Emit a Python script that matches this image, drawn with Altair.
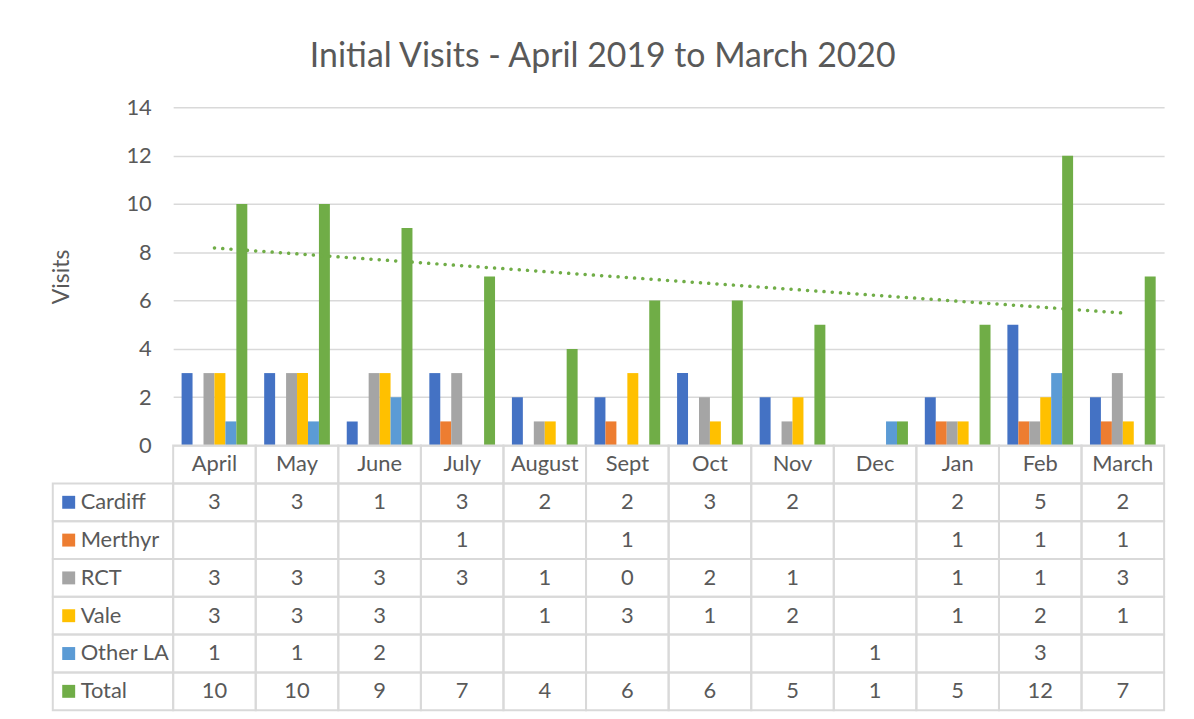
import altair as alt
import pandas as pd

# ---- data ----
months = ["April", "May", "June", "July", "August", "Sept", "Oct", "Nov", "Dec", "Jan", "Feb", "March"]
series = ["Cardiff", "Merthyr", "RCT", "Vale", "Other LA", "Total"]
cardiff = [3, 3, 1, 3, 2, 2, 3, 2, None, 2, 5, 2]
merthyr = [None, None, None, 1, None, 1, None, None, None, 1, 1, 1]
rct = [3, 3, 3, 3, 1, 0, 2, 1, None, 1, 1, 3]
vale = [3, 3, 3, None, 1, 3, 1, 2, None, 1, 2, 1]
other_la = [1, 1, 2, None, None, None, None, None, 1, None, 3, None]
total = [10, 10, 9, 7, 4, 6, 6, 5, 1, 5, 12, 7]
colors = ["#4472C4", "#ED7D31", "#A5A5A5", "#FFC000", "#5B9BD5", "#70AD47"]
y_ticks = [0, 2, 4, 6, 8, 10, 12, 14]
chart_title = "Initial Visits - April 2019 to March 2020"
y_title = "Visits"
header_key = "header"

# ---- build tables ----
values_by_series = dict(zip(series, [cardiff, merthyr, rct, vale, other_la, total]))
long_rows = []
for s in series:
    for i, m in enumerate(months):
        v = values_by_series[s][i]
        long_rows.append({"month": m, "idx": i + 1, "series": s, "row": s,
                          "value": v, "label": "" if v is None else str(v)})
df = pd.DataFrame(long_rows)

table_rows = [{"month": m, "row": header_key, "label": m} for m in months]
table_rows += [{"month": r["month"], "row": r["row"], "label": r["label"]} for r in long_rows]
tdf = pd.DataFrame(table_rows)
ldf = pd.DataFrame({"row": series, "series": series})
row_domain = [header_key] + series

# ---- style ----
FONT = "Lato"
TXT = "#595959"
GRID = "#D9D9D9"
W = 996
H = 340
ROW_H = 38
FS = 22

color = alt.Color("series:N", scale=alt.Scale(domain=series, range=colors), legend=None)

bars = alt.Chart(df).mark_bar().encode(
    x=alt.X("month:N", sort=months,
            scale=alt.Scale(domain=months, paddingInner=0, paddingOuter=0), axis=None),
    xOffset=alt.XOffset("series:N", sort=series,
                        scale=alt.Scale(domain=series, paddingInner=0, paddingOuter=0.77)),
    y=alt.Y("value:Q", scale=alt.Scale(domain=[0, 14], nice=False),
            axis=alt.Axis(values=y_ticks, title=y_title, grid=True, gridColor=GRID,
                          gridWidth=1.5, domain=False, ticks=False, tickSize=0,
                          labelPadding=22, labelFont=FONT, labelFontSize=FS,
                          labelColor=TXT, titleFont=FONT, titleFontSize=23,
                          titleColor=TXT, titleFontWeight="normal", titlePadding=53)),
    color=color,
)

trend = alt.Chart(df).transform_filter(
    alt.datum.series == "Total"
).transform_regression("idx", "value").mark_line(
    color="#70AD47", strokeWidth=3.5, strokeDash=[0.1, 8.2], strokeCap="round"
).encode(
    x=alt.X("idx:Q", scale=alt.Scale(domain=[0.5, 12.5], nice=False, zero=False), axis=None),
    y=alt.Y("value:Q"),
)

top = alt.layer(bars, trend).resolve_scale(x="independent").properties(width=W, height=H)

x_tab = alt.X("month:N", sort=months,
              scale=alt.Scale(domain=months, paddingInner=0, paddingOuter=0), axis=None)
y_tab = alt.Y("row:N", sort=row_domain,
              scale=alt.Scale(domain=row_domain, paddingInner=0, paddingOuter=0), axis=None)

cells = alt.Chart(tdf).mark_rect(fillOpacity=0, stroke=GRID, strokeWidth=2).encode(
    x=x_tab, y=y_tab)
texts = alt.Chart(tdf).mark_text(font=FONT, fontSize=FS, color=TXT).encode(
    x=x_tab, y=y_tab, text="label:N")
left_cells = alt.Chart(ldf).mark_rect(fillOpacity=0, stroke=GRID, strokeWidth=2).encode(
    x=alt.value(-121), x2=alt.value(0), y=y_tab)
swatches = alt.Chart(ldf).mark_square(size=169, opacity=1).encode(
    x=alt.value(-105), y=y_tab, color=color)
names = alt.Chart(ldf).mark_text(align="left", font=FONT, fontSize=FS, color=TXT).encode(
    x=alt.value(-93), y=y_tab, text="row:N")

table = alt.layer(left_cells, cells, swatches, names, texts).properties(
    width=W, height=ROW_H * len(row_domain))

chart = alt.vconcat(top, table, spacing=0, bounds="flush").resolve_scale(
    x="independent", color="shared"
).properties(
    title=alt.TitleParams(text=chart_title, font=FONT, fontSize=34, fontWeight="normal",
                          color=TXT, anchor="middle", offset=22, dx=-5),
    padding={"left": 41, "top": 30, "right": 20, "bottom": 5},
).configure_view(stroke="transparent")

chart.save("out.html", embed_options={"renderer": "svg", "actions": False})
